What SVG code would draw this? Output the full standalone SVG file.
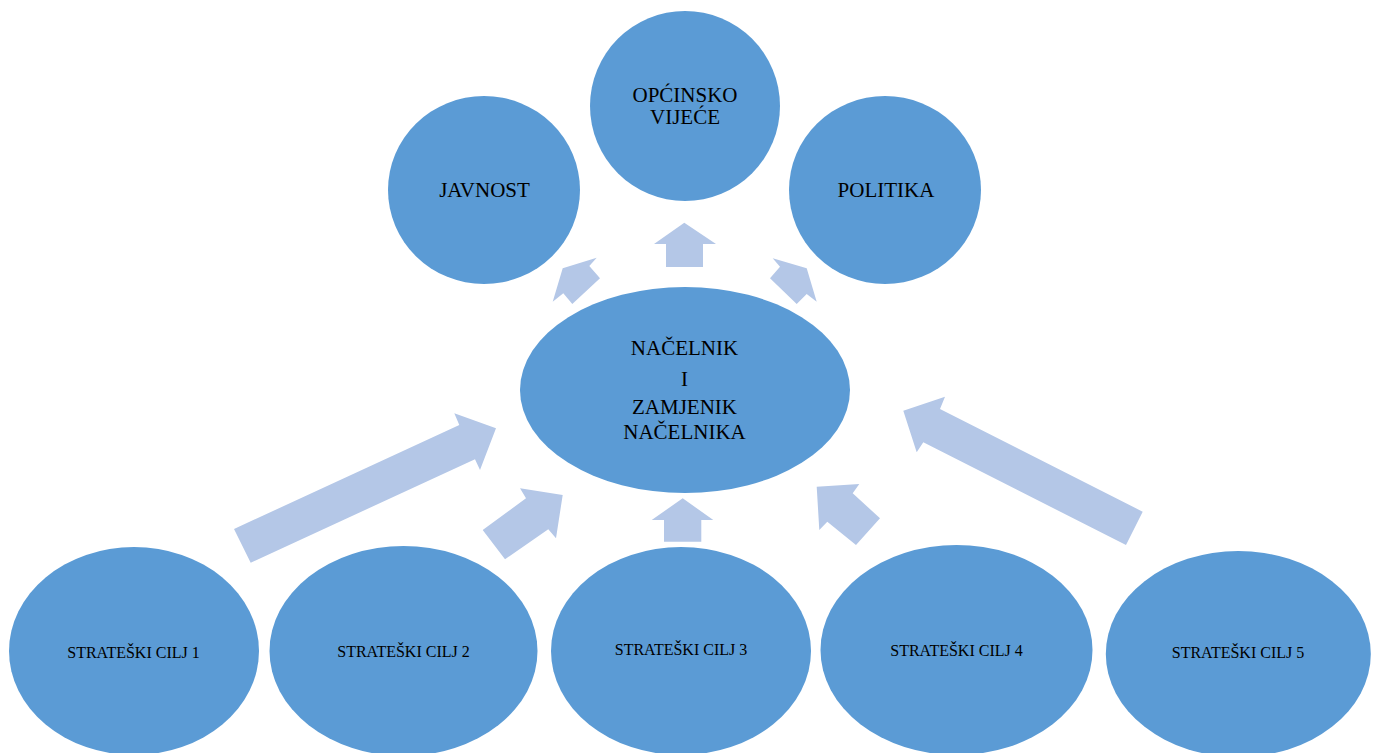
<svg xmlns="http://www.w3.org/2000/svg" width="1379" height="753" viewBox="0 0 1379 753">
<style>
.node{fill:#5B9BD5;}
.arr{fill:#B4C7E7;}
.t{font-family:"Liberation Serif","Times New Roman",serif;fill:#000;text-anchor:middle;}
.big{font-size:21px;}
.small{font-size:16px;}
</style>
<rect width="1379" height="753" fill="#fff"/>
<g id="connectors">
<polygon class="arr" points="666,267 666,244 654,244 684.3,222.7 716,244 703,244 703,267"/>
<polygon class="arr" points="562.7,268.3 596.7,257.7 589.3,266 600,278.3 572.3,304 563.3,293.3 552.7,301.7"/>
<polygon class="arr" points="806.7,268.3 772.7,258.3 780,266.7 770,278.3 796.7,304 806.7,294 816.7,301.7"/>
<polygon class="arr" points="234,529 459.3,425 454.3,413.3 496,428.3 480,470 475,459.3 250.7,562.7"/>
<polygon class="arr" points="482.7,530 526,498.3 520,488.3 562.7,495 556,538.3 548.3,529.3 505,559.3"/>
<polygon class="arr" points="664,541.7 664,520 651.7,520 682.7,498.3 713.3,520 701.3,520 701.3,541.7"/>
<polygon class="arr" points="816.7,486.7 859.3,484 852.7,493.3 880,518.3 856,545 827.3,521.7 819.3,530"/>
<polygon class="arr" points="903.3,410.7 945,396.7 940,409 1142.7,511.7 1126,545 923.3,442.3 916.7,452.3"/>
</g>
<g id="opcinsko">
<ellipse class="node" cx="685" cy="106" rx="95" ry="95"/>
<text class="t big" x="685" y="101.7">OPĆINSKO</text>
<text class="t big" x="685" y="124.3">VIJEĆE</text>
</g>
<g id="javnost">
<ellipse class="node" cx="484" cy="190" rx="96" ry="94"/>
<text class="t big" x="484.5" y="196.7">JAVNOST</text>
</g>
<g id="politika">
<ellipse class="node" cx="885" cy="190" rx="96" ry="94"/>
<text class="t big" x="886" y="196.7">POLITIKA</text>
</g>
<g id="nacelnik">
<ellipse class="node" cx="685" cy="390" rx="165" ry="103"/>
<text class="t big" x="684.5" y="355">NAČELNIK</text>
<text class="t big" x="684.5" y="385.7">I</text>
<text class="t big" x="684.5" y="414">ZAMJENIK</text>
<text class="t big" x="684.5" y="439">NAČELNIKA</text>
</g>
<g id="cilj1">
<ellipse class="node" cx="134" cy="651" rx="125" ry="104"/>
<text class="t small" x="133.5" y="657.7">STRATEŠKI CILJ 1</text>
</g>
<g id="cilj2">
<ellipse class="node" cx="403.5" cy="651" rx="134" ry="105"/>
<text class="t small" x="403.5" y="657.3">STRATEŠKI CILJ 2</text>
</g>
<g id="cilj3">
<ellipse class="node" cx="681" cy="651" rx="130" ry="104"/>
<text class="t small" x="681" y="654.8">STRATEŠKI CILJ 3</text>
</g>
<g id="cilj4">
<ellipse class="node" cx="956.5" cy="650" rx="136" ry="105"/>
<text class="t small" x="956.5" y="656">STRATEŠKI CILJ 4</text>
</g>
<g id="cilj5">
<ellipse class="node" cx="1238.3" cy="654" rx="132.5" ry="103"/>
<text class="t small" x="1238" y="658">STRATEŠKI CILJ 5</text>
</g>
</svg>
